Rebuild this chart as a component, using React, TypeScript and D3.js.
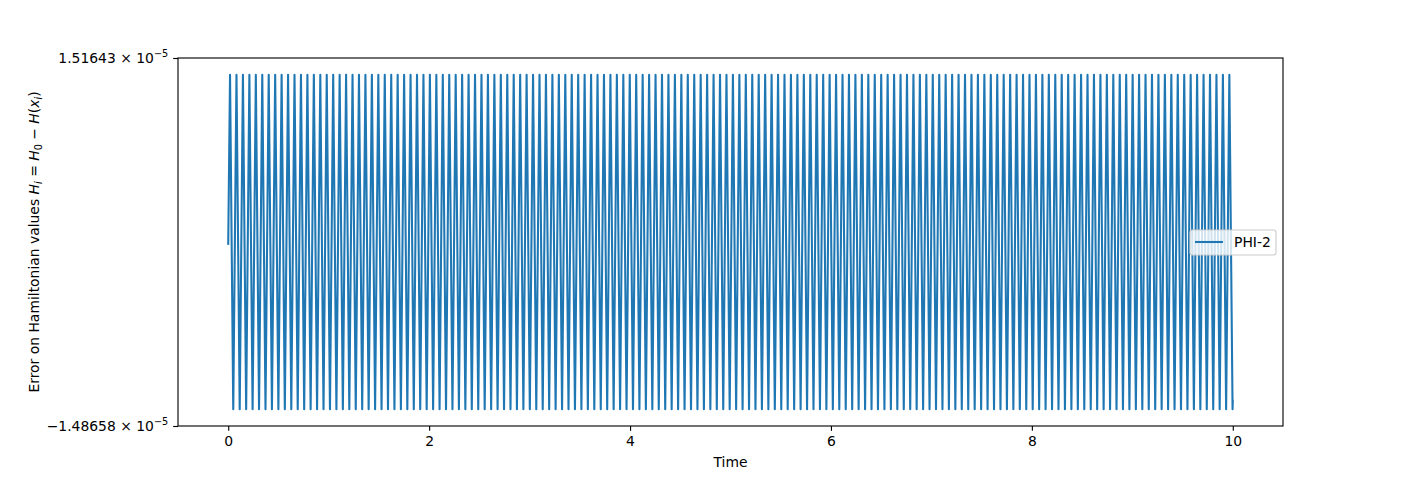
import React, { useEffect, useRef } from 'react';
import * as d3 from 'd3';

// y limits shown as the only two ticks
const yTickValues = [-1.48658e-5, 1.51643e-5];
const yTickMantissas = ['\u22121.48658', '1.51643'];
const xTickValues = [0, 2, 4, 6, 8, 10];

// time grid of the PHI-2 run
const firstSample = 0.018;
const sampleStep = 0.03209;
const lastTime = 10;

// error values in units of 1e-5 (start, 156 up/down pairs, end)
const errorValues = [
  0,
  1.38, -1.35, 1.38, -1.35, 1.38, -1.35, 1.38, -1.35, 1.38, -1.35, 1.38, -1.35, 1.38, -1.35, 1.38, -1.35, 1.38, -1.35, 1.38, -1.35, 1.38, -1.35, 1.38, -1.35,
  1.38, -1.35, 1.38, -1.35, 1.38, -1.35, 1.38, -1.35, 1.38, -1.35, 1.38, -1.35, 1.38, -1.35, 1.38, -1.35, 1.38, -1.35, 1.38, -1.35, 1.38, -1.35, 1.38, -1.35,
  1.38, -1.35, 1.38, -1.35, 1.38, -1.35, 1.38, -1.35, 1.38, -1.35, 1.38, -1.35, 1.38, -1.35, 1.38, -1.35, 1.38, -1.35, 1.38, -1.35, 1.38, -1.35, 1.38, -1.35,
  1.38, -1.35, 1.38, -1.35, 1.38, -1.35, 1.38, -1.35, 1.38, -1.35, 1.38, -1.35, 1.38, -1.35, 1.38, -1.35, 1.38, -1.35, 1.38, -1.35, 1.38, -1.35, 1.38, -1.35,
  1.38, -1.35, 1.38, -1.35, 1.38, -1.35, 1.38, -1.35, 1.38, -1.35, 1.38, -1.35, 1.38, -1.35, 1.38, -1.35, 1.38, -1.35, 1.38, -1.35, 1.38, -1.35, 1.38, -1.35,
  1.38, -1.35, 1.38, -1.35, 1.38, -1.35, 1.38, -1.35, 1.38, -1.35, 1.38, -1.35, 1.38, -1.35, 1.38, -1.35, 1.38, -1.35, 1.38, -1.35, 1.38, -1.35, 1.38, -1.35,
  1.38, -1.35, 1.38, -1.35, 1.38, -1.35, 1.38, -1.35, 1.38, -1.35, 1.38, -1.35, 1.38, -1.35, 1.38, -1.35, 1.38, -1.35, 1.38, -1.35, 1.38, -1.35, 1.38, -1.35,
  1.38, -1.35, 1.38, -1.35, 1.38, -1.35, 1.38, -1.35, 1.38, -1.35, 1.38, -1.35, 1.38, -1.35, 1.38, -1.35, 1.38, -1.35, 1.38, -1.35, 1.38, -1.35, 1.38, -1.35,
  1.38, -1.35, 1.38, -1.35, 1.38, -1.35, 1.38, -1.35, 1.38, -1.35, 1.38, -1.35, 1.38, -1.35, 1.38, -1.35, 1.38, -1.35, 1.38, -1.35, 1.38, -1.35, 1.38, -1.35,
  1.38, -1.35, 1.38, -1.35, 1.38, -1.35, 1.38, -1.35, 1.38, -1.35, 1.38, -1.35, 1.38, -1.35, 1.38, -1.35, 1.38, -1.35, 1.38, -1.35, 1.38, -1.35, 1.38, -1.35,
  1.38, -1.35, 1.38, -1.35, 1.38, -1.35, 1.38, -1.35, 1.38, -1.35, 1.38, -1.35, 1.38, -1.35, 1.38, -1.35, 1.38, -1.35, 1.38, -1.35, 1.38, -1.35, 1.38, -1.35,
  1.38, -1.35, 1.38, -1.35, 1.38, -1.35, 1.38, -1.35, 1.38, -1.35, 1.38, -1.35, 1.38, -1.35, 1.38, -1.35, 1.38, -1.35, 1.38, -1.35, 1.38, -1.35, 1.38, -1.35,
  1.38, -1.35, 1.38, -1.35, 1.38, -1.35, 1.38, -1.35, 1.38, -1.35, 1.38, -1.35, 1.38, -1.35, 1.38, -1.35, 1.38, -1.35, 1.38, -1.35, 1.38, -1.35, 1.38, -1.35,
  -1.28,
];

const seriesName = 'PHI-2';

const App = () => {
  const svgRef = useRef<SVGSVGElement>(null);

  const width = 1426;
  const height = 480;
  const margin = { top: 58, right: 143, bottom: 54, left: 178 };
  const font = '"DejaVu Sans", sans-serif';
  const fontSize = 13.9;
  const pt = 100 / 72; // matplotlib points -> px at dpi 100

  useEffect(() => {
    const svg = d3.select(svgRef.current);
    svg.selectAll('*').remove();

    const n = errorValues.length;
    const data = errorValues.map((v, i) => ({
      t: i === 0 ? 0 : i === n - 1 ? lastTime : firstSample + sampleStep * (i - 1),
      v: v * 1e-5,
    }));

    const x = d3.scaleLinear()
      .domain([-0.5, 10.5])
      .range([margin.left, width - margin.right]);

    const y = d3.scaleLinear()
      .domain([yTickValues[0], yTickValues[1]])
      .range([height - margin.bottom, margin.top]);

    const line = d3.line<{ t: number; v: number }>()
      .x(d => x(d.t))
      .y(d => y(d.v));

    svg.append('path')
      .attr('fill', 'none')
      .attr('stroke', '#1f77b4')
      .attr('stroke-width', 1.5 * pt)
      .attr('stroke-linejoin', 'round')
      .attr('stroke-linecap', 'square')
      .attr('d', line(data));

    // frame
    svg.append('rect')
      .attr('x', margin.left)
      .attr('y', margin.top)
      .attr('width', width - margin.left - margin.right)
      .attr('height', height - margin.top - margin.bottom)
      .attr('fill', 'none')
      .attr('stroke', 'black')
      .attr('stroke-width', 0.8 * pt);

    const xAxis = svg.append('g')
      .attr('transform', `translate(0,${height - margin.bottom})`)
      .call(d3.axisBottom(x)
        .tickValues(xTickValues)
        .tickSize(3.5 * pt)
        .tickPadding(3.5 * pt)
        .tickSizeOuter(0));
    xAxis.select('.domain').remove();
    xAxis.selectAll('line').attr('stroke', 'black').attr('stroke-width', 0.8 * pt);
    xAxis.selectAll('text')
      .attr('font-family', font)
      .attr('font-size', fontSize)
      .attr('fill', 'black');

    const yAxis = svg.append('g')
      .attr('transform', `translate(${margin.left},0)`)
      .call(d3.axisLeft(y)
        .tickValues(yTickValues)
        .tickSize(3.5 * pt)
        .tickFormat(() => '')
        .tickSizeOuter(0));
    yAxis.select('.domain').remove();
    yAxis.selectAll('line').attr('stroke', 'black').attr('stroke-width', 0.8 * pt);

    yTickValues.forEach((val, i) => {
      const t = svg.append('text')
        .attr('x', margin.left - 7 * pt)
        .attr('y', y(val) + 5)
        .attr('text-anchor', 'end')
        .attr('font-family', font)
        .attr('font-size', fontSize)
        .attr('fill', 'black');
      t.append('tspan').text(`${yTickMantissas[i]} \u00d7 10`);
      t.append('tspan')
        .attr('dy', -6)
        .attr('font-size', fontSize * 0.7)
        .text('\u22125');
    });

    svg.append('text')
      .attr('x', (margin.left + width - margin.right) / 2)
      .attr('y', 467)
      .attr('text-anchor', 'middle')
      .attr('font-family', font)
      .attr('font-size', fontSize)
      .text('Time');

    const yl = svg.append('text')
      .attr('transform', `translate(39,${(margin.top + height - margin.bottom) / 2}) rotate(-90)`)
      .attr('text-anchor', 'middle')
      .attr('font-family', font)
      .attr('font-size', fontSize);
    yl.append('tspan').text('Error on Hamiltonian values ');
    yl.append('tspan').attr('font-style', 'italic').text('H');
    yl.append('tspan').attr('font-style', 'italic').attr('font-size', fontSize * 0.7).attr('dy', 3).text('i');
    yl.append('tspan').attr('dy', -3).text(' = ');
    yl.append('tspan').attr('font-style', 'italic').text('H');
    yl.append('tspan').attr('font-size', fontSize * 0.7).attr('dy', 3).text('0');
    yl.append('tspan').attr('dy', -3).text(' \u2212 ');
    yl.append('tspan').attr('font-style', 'italic').text('H');
    yl.append('tspan').text('(');
    yl.append('tspan').attr('font-style', 'italic').text('x');
    yl.append('tspan').attr('font-style', 'italic').attr('font-size', fontSize * 0.7).attr('dy', 3).text('i');
    yl.append('tspan').attr('dy', -3).text(')');

    // legend
    const lg = svg.append('g').attr('transform', 'translate(1190,230)');
    lg.append('rect')
      .attr('width', 86)
      .attr('height', 25)
      .attr('rx', 2.5)
      .attr('fill', 'white')
      .attr('fill-opacity', 0.8)
      .attr('stroke', '#cccccc')
      .attr('stroke-width', 0.8 * pt);
    lg.append('line')
      .attr('x1', 5).attr('x2', 33)
      .attr('y1', 12).attr('y2', 12)
      .attr('stroke', '#1f77b4')
      .attr('stroke-width', 1.5 * pt);
    lg.append('text')
      .attr('x', 44)
      .attr('y', 17)
      .attr('font-family', font)
      .attr('font-size', fontSize)
      .text(seriesName);
  }, []);

  return (
    <svg
      ref={svgRef}
      width={width}
      height={height}
      style={{ position: 'absolute', left: 0, top: 0, background: 'white' }}
    />
  );
};

export default App;
